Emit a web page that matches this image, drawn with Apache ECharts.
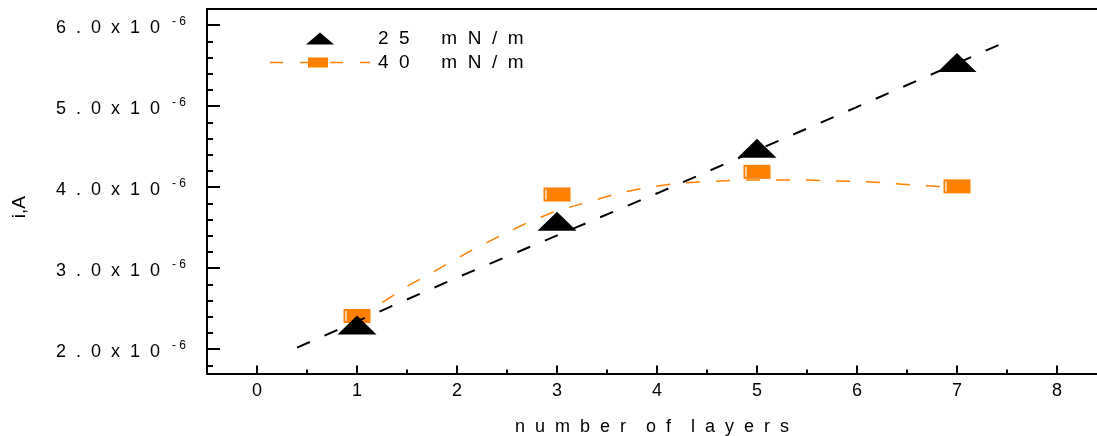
<!DOCTYPE html>
<html>
<head>
<meta charset="utf-8">
<script src="https://cdn.jsdelivr.net/npm/echarts@6/dist/echarts.min.js"></script>
<style>
html,body{margin:0;padding:0;background:#fff;}
#c{width:1097px;height:436px;}
</style>
</head>
<body>
<div id="c"></div>
<script>
// ---- data (current in units of 1e-6 A) ----
const layers = [1, 3, 5, 7];
const current25 = [2.30, 3.58, 4.48, 5.54];
const current40 = [2.41, 3.91, 4.19, 4.01];
const fit25X = [0.40, 2.05, 4.03, 5.98, 7.50];
const fit25Y = [2.02, 2.91, 3.94, 4.98, 5.80];
const fit40X = [1.00, 1.27, 1.52, 1.80, 2.10, 2.40, 2.70, 3.00, 3.32, 3.62, 3.92, 4.22, 4.52, 4.82, 5.43, 6.03, 6.33, 6.63, 7.00];
const fit40Y = [2.38, 2.59, 2.79, 2.98, 3.19, 3.38, 3.56, 3.71, 3.82, 3.93, 4.00, 4.05, 4.07, 4.09, 4.09, 4.07, 4.05, 4.02, 4.00];
const xTicks = [0, 1, 2, 3, 4, 5, 6, 7, 8];
const xMinorTicks = [0.5, 1.5, 2.5, 3.5, 4.5, 5.5, 6.5, 7.5];
const yTicks = [2, 3, 4, 5, 6];
const yMinorTicks = [1.8, 2.2, 2.4, 2.6, 2.8, 3.2, 3.4, 3.6, 3.8, 4.2, 4.4, 4.6, 4.8, 5.2, 5.4, 5.6, 5.8];
const yTickLabels = ['2.0x10', '3.0x10', '4.0x10', '5.0x10', '6.0x10'];
const yExponent = '-6';
const seriesNames = ['25 mN/m', '40 mN/m'];
const xTitle = 'number of layers';
const yTitle = 'i,A';

const FONT = '"Liberation Sans", Arial, Helvetica, sans-serif';
const ORANGE = '#FF8000';
// legend glyph for the dashed line with a box marker (100 x 10 units)
const LEGEND40_ICON = 'path://M0,4.3h13v1.4h-13z M30,4.3h8v1.4h-8z M38,0h20v10h-20z M60,4.3h13v1.4h-13z M90,4.3h10v1.4h-10z';

function spaced(s, gap, wordGap) {
  return s.split(' ').map(w => w.split('').join(gap)).join(wordGap);
}
function pairs(xs, ys) { return xs.map((x, i) => [x, ys[i]]); }

const chart = echarts.init(document.getElementById('c'), null, {renderer: 'canvas'});

const baseX = {type: 'value', min: -0.5, max: 8.4, gridIndex: 0, splitLine: {show: false}};
const baseY = {type: 'value', min: 1.7, max: 6.2, gridIndex: 0, splitLine: {show: false}};

chart.setOption({
  animation: false,
  backgroundColor: '#fff',
  textStyle: {fontFamily: FONT, color: '#000'},
  grid: {left: 207, top: 9, width: 890, height: 364.5, containLabel: false, outerBoundsMode: 'none'},
  legend: [
    {
      data: [seriesNames[0]], left: 306, top: 29, padding: 0, orient: 'vertical',
      itemWidth: 28, itemHeight: 12, selectedMode: false,
      formatter: n => spaced(n, '  ', '      '),
      textStyle: {fontFamily: FONT, fontSize: 19, color: '#000', padding: [0, 0, 0, 39]}
    },
    {
      data: [{name: seriesNames[1], icon: LEGEND40_ICON, itemStyle: {color: ORANGE, borderWidth: 0}}],
      left: 270, top: 53, padding: 0, orient: 'vertical',
      itemWidth: 100, itemHeight: 10, selectedMode: false,
      formatter: n => spaced(n, '  ', '      '),
      textStyle: {fontFamily: FONT, fontSize: 19, color: '#000', padding: [0, 0, 0, 3]}
    }
  ],
  xAxis: [
    Object.assign({}, baseX, {
      position: 'bottom',
      axisLine: {show: true, onZero: false, lineStyle: {color: '#000', width: 2}},
      axisTick: {show: true, inside: true, length: 8, lineStyle: {color: '#000', width: 2}, customValues: xTicks},
      axisLabel: {show: true, customValues: xTicks, margin: 9, fontSize: 18, fontFamily: FONT, color: '#000'},
      name: spaced(xTitle, '  ', '    '), nameLocation: 'middle', nameGap: 45,
      nameTextStyle: {fontSize: 18, fontFamily: FONT, color: '#000'}
    }),
    Object.assign({}, baseX, {
      position: 'bottom',
      axisLine: {show: false, onZero: false},
      axisTick: {show: true, inside: true, length: 4, lineStyle: {color: '#000', width: 2}, customValues: xMinorTicks},
      axisLabel: {show: false}
    }),
    Object.assign({}, baseX, {
      position: 'top',
      axisLine: {show: true, onZero: false, lineStyle: {color: '#000', width: 2}},
      axisTick: {show: false},
      axisLabel: {show: false}
    })
  ],
  yAxis: [
    Object.assign({}, baseY, {
      position: 'left',
      axisLine: {show: true, onZero: false, lineStyle: {color: '#000', width: 2}},
      axisTick: {show: true, inside: true, length: 13, lineStyle: {color: '#000', width: 2}, customValues: yTicks},
      axisLabel: {
        show: true, customValues: yTicks, margin: 21, align: 'right',
        formatter: v => {
          const i = yTicks.indexOf(v);
          return '{m|' + spaced(yTickLabels[i], '  ', '  ') + '}{e|' + spaced(yExponent, ' ', ' ') + '}';
        },
        rich: {
          m: {fontSize: 18, fontFamily: FONT, color: '#000', lineHeight: 24, padding: [6, 0, 0, 0]},
          e: {fontSize: 12, fontFamily: FONT, color: '#000', verticalAlign: 'top', padding: [2, 0, 0, 12]}
        }
      },
      name: yTitle, nameLocation: 'middle', nameGap: 178, nameRotate: 90,
      nameTextStyle: {fontSize: 19, fontFamily: FONT, color: '#000', padding: [0, 32, 0, 0]}
    }),
    Object.assign({}, baseY, {
      position: 'left',
      axisLine: {show: false, onZero: false},
      axisTick: {show: true, inside: true, length: 6, lineStyle: {color: '#000', width: 2}, customValues: yMinorTicks},
      axisLabel: {show: false}
    })
  ],
  series: [
    {
      name: seriesNames[1], type: 'line', xAxisIndex: 0, yAxisIndex: 0,
      data: pairs(fit40X, fit40Y), showSymbol: false, symbol: 'rect', symbolSize: [20, 10],
      lineStyle: {color: ORANGE, width: 1.5, type: [14, 16]}, itemStyle: {color: ORANGE},
      z: 2, silent: true
    },
    {
      name: seriesNames[1] + ' data', type: 'scatter', xAxisIndex: 0, yAxisIndex: 0,
      data: pairs(layers, current40), symbol: 'rect', symbolSize: [27, 14],
      itemStyle: {color: ORANGE, opacity: 1}, z: 3, silent: true
    },
    {
      name: seriesNames[1] + ' highlight', type: 'scatter', xAxisIndex: 0, yAxisIndex: 0,
      data: pairs(layers, current40), symbol: 'rect', symbolSize: [1.2, 10], symbolOffset: [-11, 0],
      itemStyle: {color: '#fff', opacity: 1}, z: 3, silent: true
    },
    {
      name: seriesNames[0] + ' fit', type: 'line', xAxisIndex: 0, yAxisIndex: 0,
      data: pairs(fit25X, fit25Y), showSymbol: false, symbol: 'none',
      lineStyle: {color: '#000', width: 2, type: [14, 16]}, z: 4, silent: true
    },
    {
      name: seriesNames[0], type: 'scatter', xAxisIndex: 0, yAxisIndex: 0,
      data: pairs(layers, current25), symbol: 'triangle', symbolSize: [39, 19],
      itemStyle: {color: '#000', opacity: 1}, z: 5, silent: true
    }
  ]
});
</script>
</body>
</html>
